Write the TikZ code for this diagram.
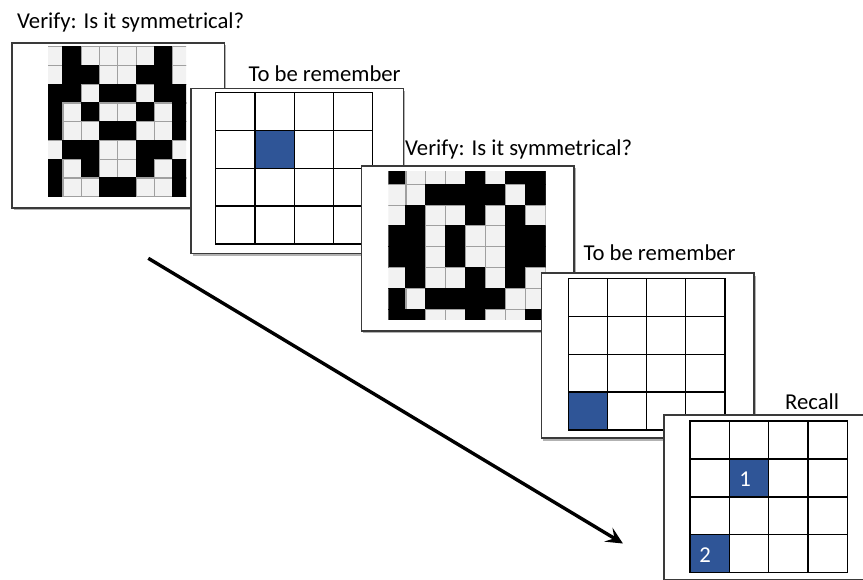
\documentclass[tikz,border=0pt]{standalone}
\usepackage{fontspec}
\setmainfont{Carlito}
\usetikzlibrary{shadows,arrows.meta}

\definecolor{cell0}{HTML}{F2F2F2}
\definecolor{cell1}{HTML}{000000}
\definecolor{edge0}{HTML}{A0A0A0}
\definecolor{edge1}{HTML}{000000}
\definecolor{memblue}{HTML}{2F5597}
\definecolor{framegray}{HTML}{3A3A3A}

\tikzset{
  panel/.style={rectangle, draw=framegray, line width=1.5pt, fill=white,
    inner sep=0pt, minimum width=212.5pt, minimum height=165pt, anchor=north west,
    drop shadow={shadow xshift=2pt, shadow yshift=-2.5pt, opacity=0.3, fill=black}},
  caption/.style={anchor=base west, inner sep=0pt, font=\fontsize{22.7}{27}\selectfont},
  gridline/.style={draw=black, line width=1.3pt},
  cue/.style={fill=memblue},
  digit/.style={text=white, inner sep=0pt, font=\fontsize{22.7}{27}\selectfont},
  timeline/.style={line width=3.4pt, -{Stealth[length=17pt,width=16pt,inset=7pt]}}
}

% 4x4 memory grid: corners (x0,y0) and (x1,y1)
\newcommand\memgrid[4]{%
  \draw[gridline] (#1,#2) rectangle (#3,#4);
  \foreach \k in {1,2,3}{
    \draw[gridline] ({#1+(#3-#1)*\k/4},#2) -- ({#1+(#3-#1)*\k/4},#4);
    \draw[gridline] (#1,{#2+(#4-#2)*\k/4}) -- (#3,{#2+(#4-#2)*\k/4});
  }}
% filled cell of a memory grid: corners, column, row
\newcommand\memcell[6]{%
  \fill[cue] ({#1+(#3-#1)*#5/4},{#2+(#4-#2)*#6/4}) rectangle
             ({#1+(#3-#1)*(#5+1)/4},{#2+(#4-#2)*(#6+1)/4});}
% black/white matrix: origin, cell size, clip window, rows
\newcommand\symgrid[9]{%
  \begin{scope}
    \clip (#5,#6) rectangle (#7,#8);
    \foreach \row [count=\r from 0] in {#9} {
      \foreach \v [count=\c from 0] in \row {
        \draw[fill=cell\v, draw=edge\v, line width=1.1pt]
          ({#1+\c*#3},{#2+\r*#4}) rectangle ++(#3,#4);
      }
    }
  \end{scope}}

\begin{document}
\begin{tikzpicture}[x=1pt,y=-1pt]
  \clip (0,0) rectangle (863,579);
  \fill[white] (0,0) rectangle (863,579);

  % time arrow
  \coordinate (tstart) at (148.3,258.3);
  \coordinate (tend) at (623,543.5);
  \draw[timeline] (tstart) -- (tend);

  % panel 1: symmetry judgement
  \node[caption] (c1) at (17,28) {Verify: Is it symmetrical?};
  \node[panel] (p1) at (11,42) {};
  \symgrid{44.7}{46.7}{18.3}{18.75}{48}{46.7}{186}{196.7}{%
    {0,1,0,0,0,0,1,0},{0,1,1,0,0,1,1,0},{1,1,0,1,1,0,1,1},{1,0,1,0,0,1,0,1},
    {1,0,0,1,1,0,0,1},{0,1,1,0,0,1,1,0},{1,0,1,0,0,1,0,1},{1,0,0,1,1,0,0,1}}

  % panel 2: location to remember
  \node[caption] (c2) at (248.3,81.7) {To be remember};
  \node[panel] (p2) at (190,87.5) {};
  \memcell{215.7}{92.3}{372.7}{244}{1}{1}
  \memgrid{215.7}{92.3}{372.7}{244}

  % panel 3: symmetry judgement
  \node[caption] (c3) at (405,155) {Verify: Is it symmetrical?};
  \node[panel] (p3) at (360.5,165) {};
  \symgrid{386}{163.5}{19.95}{20.8}{388.3}{171.7}{545.7}{319}{%
    {1,0,0,0,1,0,1,1},{0,0,1,1,1,1,0,1},{0,1,0,0,1,0,1,0},{1,1,0,1,0,0,1,1},
    {1,1,0,1,0,0,1,1},{0,1,0,0,1,0,1,0},{1,0,1,1,1,1,0,0},{1,1,0,0,1,0,0,1}}

  % panel 4: location to remember
  \node[caption] (c4) at (583.3,260.7) {To be remember};
  \node[panel] (p4) at (540.7,272.3) {};
  \memcell{568.3}{278.3}{725}{430}{0}{3}
  \memgrid{568.3}{278.3}{725}{430}

  % panel 5: recall in order
  \node[caption] (c5) at (785,409.3) {Recall};
  \node[panel] (p5) at (663.3,414.3) {};
  \memcell{690}{421}{847.3}{572.7}{1}{1}
  \memcell{690}{421}{847.3}{572.7}{0}{3}
  \memgrid{690}{421}{847.3}{572.7}
  \node[digit] (d1) at (745,479.5) {1};
  \node[digit] (d2) at (705,555.5) {2};
\end{tikzpicture}
\end{document}
